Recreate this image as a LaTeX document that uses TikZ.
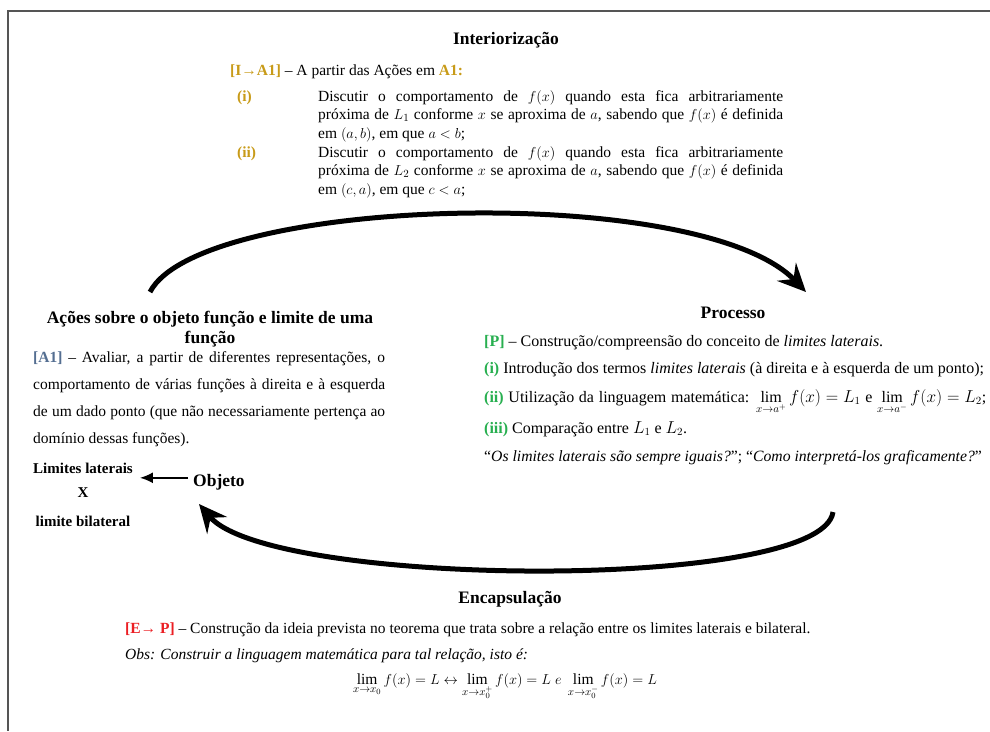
\documentclass[tikz,border=0pt]{standalone}
\usepackage{amsmath}
\usepackage{fontspec}
\setmainfont{Liberation Serif}
\usetikzlibrary{arrows.meta,calc}
\definecolor{framegray}{RGB}{85,85,85}
\definecolor{gold}{RGB}{200,155,25}
\definecolor{aone}{RGB}{84,110,145}
\definecolor{pgreen}{RGB}{40,175,80}
\definecolor{ered}{RGB}{235,30,35}
\begin{document}
\begin{tikzpicture}[x=1pt,y=-1pt,
  head/.style={font=\bfseries\fontsize{17.5}{20}\selectfont, inner sep=0pt, anchor=base},
  small/.style={font=\bfseries\fontsize{15}{18}\selectfont, inner sep=0pt, anchor=base},
  txt/.style={font=\fontsize{15.5}{18.5}\selectfont, inner sep=0pt, anchor=base west},
  ptxt/.style={txt, font=\fontsize{16}{19}\selectfont},
  qtxt/.style={txt, font=\fontsize{15.7}{19}\selectfont},
  wide/.style={txt, font=\fontsize{15.5}{27}\selectfont},
  bigarc/.style={line width=5pt, -{Stealth[length=28pt,width=26pt,inset=10pt]}}]
\useasboundingbox (0,0) rectangle (990,731);
% page frame (top and left edges)
\draw[line width=2pt, framegray] (990,11) -- (8,11) -- (8,731);

% ---- Interiorizacao ----
\node[head] (int) at (506,44) {Interiorização};
\node[txt] (ia) at (230,75) {\textcolor{gold}{\textbf{[I→A1]}} – A partir das Ações em \textcolor{gold}{\textbf{A1:}}};
\node[txt] (li) at (237,101) {\textcolor{gold}{\textbf{(i)}}};
\node[txt, text width=465pt, align=justify] (ti) at (318,101)
  {Discutir o comportamento de $f(x)$ quando esta fica arbitrariamente\linebreak próxima de $L_1$ conforme $x$ se aproxima de $a$, sabendo que $f(x)$ é definida\linebreak em $(a,b)$, em que $a<b$;};
\node[txt] (lii) at (237,157) {\textcolor{gold}{\textbf{(ii)}}};
\node[txt, text width=465pt, align=justify] (tii) at (318,157)
  {Discutir o comportamento de $f(x)$ quando esta fica arbitrariamente\linebreak próxima de $L_2$ conforme $x$ se aproxima de $a$, sabendo que $f(x)$ é definida\linebreak em $(c,a)$, em que $c<a$;};

% ---- Acoes ----
\node[head] (ac1) at (210,323) {Ações sobre o objeto função e limite de uma};
\node[head] (ac2) at (210,343) {função};
\node[wide, text width=352pt, align=justify] (acp) at (33,362)
  {\textcolor{aone}{\textbf{[A1]}} – Avaliar, a partir de diferentes representações, o comportamento de várias funções à direita e à esquerda de um dado ponto (que não necessariamente pertença ao domínio dessas funções).};
\node[small] (lim) at (83,473) {Limites laterais};
\node[small] (vs) at (83,497) {X};
\node[small] (bil) at (83,526) {limite bilateral};
\node[head, anchor=base west] (obj) at (193,486) {Objeto};
\coordinate (objarr) at ($(obj.west)+(-5,-4)$);
\draw[line width=1.6pt, -{Latex[length=13pt,width=11pt]}] (objarr) -- ($(lim.east |- objarr)+(7,0)$);

% ---- Processo ----
\node[head] (pro) at (733,318) {Processo};
\node[ptxt] (p0) at (484,346) {\textcolor{pgreen}{\textbf{[P]}} – Construção/compreensão do conceito de \textit{limites laterais}.};
\node[ptxt] (p1) at (484,373) {\textcolor{pgreen}{\textbf{(i)}} Introdução dos termos \textit{limites laterais} (à direita e à esquerda de um ponto);};
\node[ptxt] (p2) at (484,402) {\makebox[502pt][s]{\textcolor{pgreen}{\textbf{(ii)}} Utilização da linguagem matemática: \mbox{$\lim\limits_{x\to a^+} f(x)=L_1$} e \mbox{$\lim\limits_{x\to a^-} f(x)=L_2$};}};
\node[ptxt] (p3) at (484,433) {\textcolor{pgreen}{\textbf{(iii)}} Comparação entre $L_1$ e $L_2$.};
\node[qtxt] (p4) at (484,461) {“\textit{Os limites laterais são sempre iguais?}”; “\textit{Como interpretá-los graficamente?}”};

% ---- Encapsulacao ----
\node[head] (enc) at (510,603) {Encapsulação};
\node[txt] (e1) at (125,633) {\textcolor{ered}{\textbf{[E→ P]}} – Construção da ideia prevista no teorema que trata sobre a relação entre os limites laterais e bilateral.};
\node[txt] (e2) at (125,659) {\textit{Obs: Construir a linguagem matemática para tal relação, isto é:}};
\node[txt, anchor=base] (form) at (505,684)
  {$\lim\limits_{x\to x_0} f(x) = L \leftrightarrow \lim\limits_{x\to x_0^+} f(x) = L \;e\; \lim\limits_{x\to x_0^-} f(x) = L$};

% ---- cycle arrows ----
\coordinate (topA) at (150,292);
\coordinate (topB) at (806,292);
\coordinate (botA) at (833,512);
\coordinate (botB) at (199,504);
\draw[bigarc] (topA) .. controls (200,196) and (700,182) .. (topB);
\draw[bigarc] (botA) .. controls (822,592) and (270,588) .. (botB);
\end{tikzpicture}
\end{document}
